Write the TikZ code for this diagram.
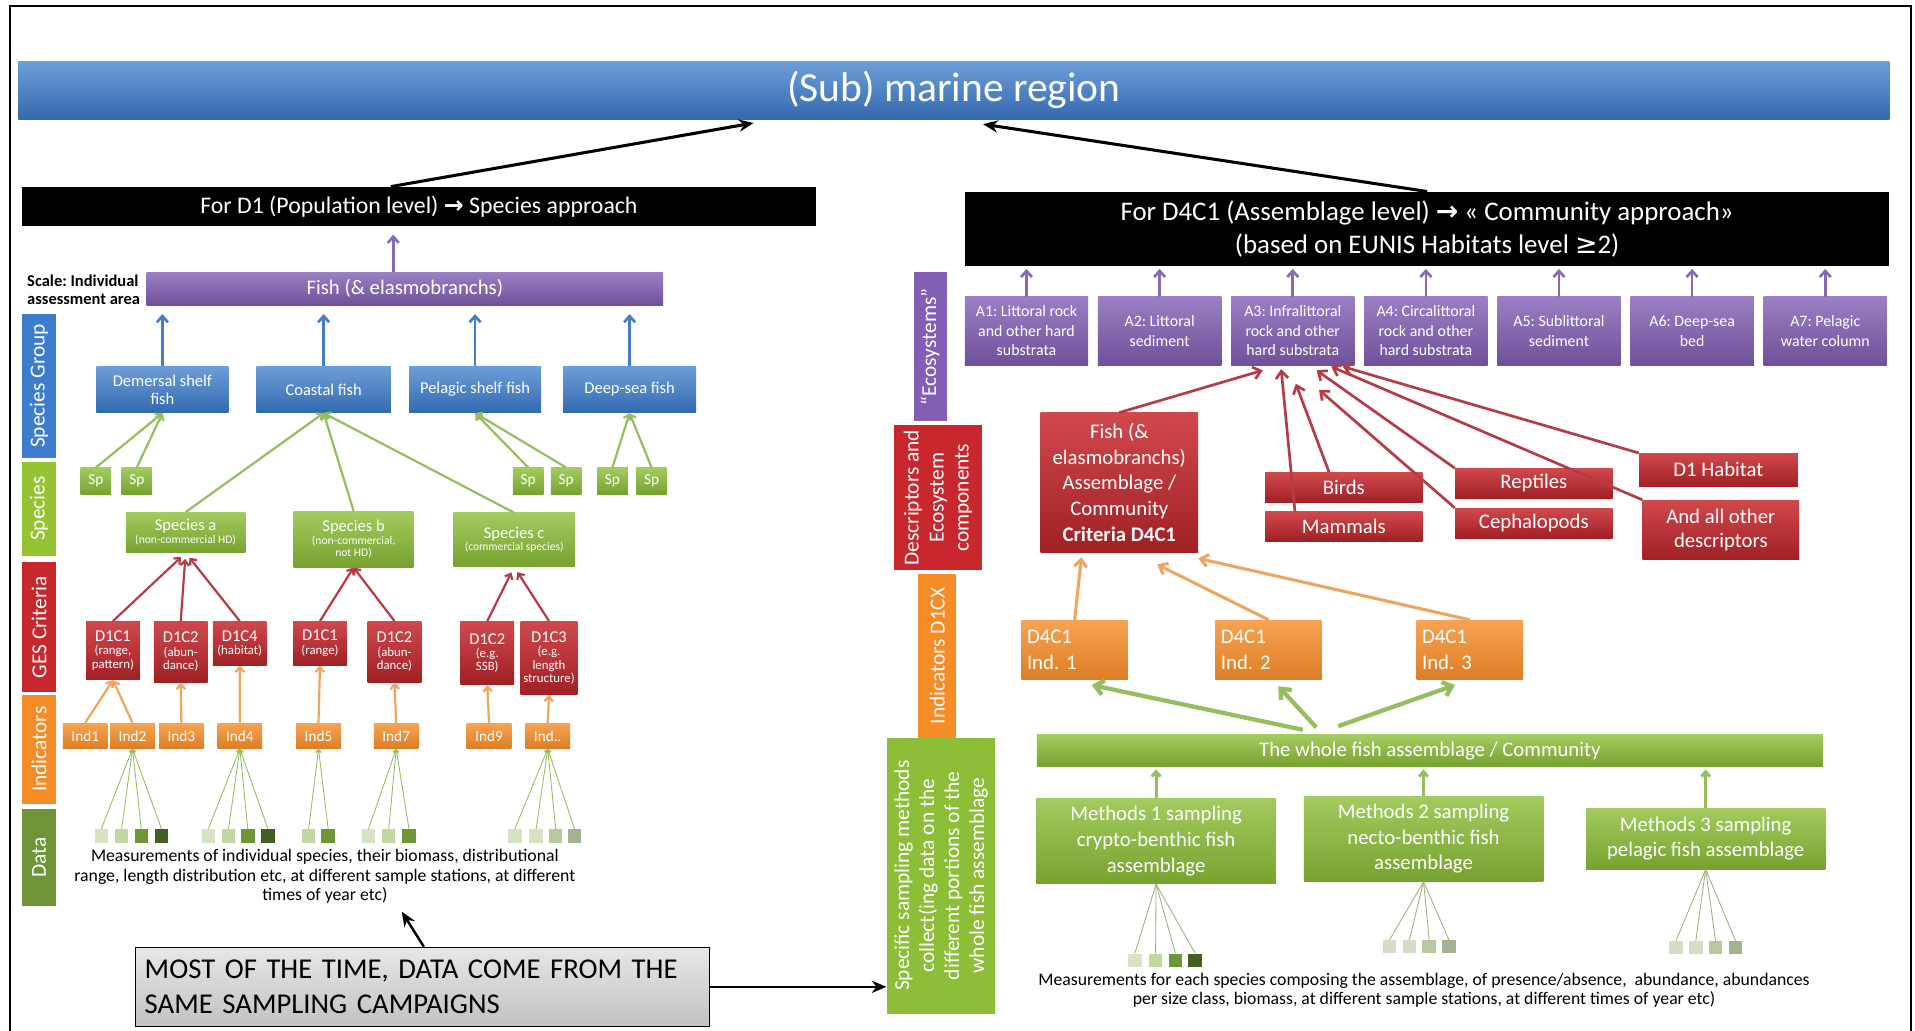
\documentclass[tikz,border=0pt]{standalone}
\usepackage{fontspec}
\setmainfont{Carlito}
\newfontfamily\symfont{DejaVu Sans}
\usetikzlibrary{arrows.meta}
\definecolor{myblue}{RGB}{60, 125, 205}
\definecolor{mypurple}{RGB}{130, 95, 180}
\definecolor{myred}{RGB}{200, 40, 45}
\definecolor{mygreen}{RGB}{140, 190, 55}
\definecolor{mylime}{RGB}{150, 195, 50}
\definecolor{myorange}{RGB}{245, 140, 40}
\definecolor{mydkgreen}{RGB}{110, 150, 55}
\definecolor{lineblue}{RGB}{70, 125, 195}
\definecolor{linepurple}{RGB}{135, 105, 180}
\definecolor{linered}{RGB}{180, 60, 70}
\definecolor{lineorange}{RGB}{240, 165, 95}
\definecolor{linegreen}{RGB}{150, 190, 95}
\definecolor{linegrey}{RGB}{160, 175, 130}
\definecolor{sqa}{RGB}{215, 228, 195}
\definecolor{sqb}{RGB}{195, 215, 160}
\definecolor{sqc}{RGB}{110, 150, 55}
\definecolor{sqd}{RGB}{65, 95, 35}
\definecolor{sqe}{RGB}{185, 200, 160}
\definecolor{sqf}{RGB}{165, 178, 145}
\definecolor{sqg}{RGB}{212, 222, 198}
\definecolor{boxgrey}{RGB}{215, 215, 215}
\newcommand{\fsz}[2]{\fontsize{#1}{#2}\selectfont}
\frenchspacing

\begin{document}
\begin{tikzpicture}[x=1pt, y=-1pt]
\tikzset{
  box/.style={align=center, text=white, inner sep=1pt},
  blueshade/.style={box, top color=myblue!75!white, bottom color=myblue!85!black},
  purpleshade/.style={box, top color=mypurple!80!white, bottom color=mypurple!85!black},
  redshade/.style={box, top color=myred!85!white, bottom color=myred!80!black},
  greenshade/.style={box, top color=mygreen!80!white, bottom color=mygreen!85!black},
  orangeshade/.style={box, top color=myorange!80!white, bottom color=myorange!90!black},
  blackbar/.style={box, fill=black},
  band/.style={box, rotate=90, minimum height=28, font=\fsz{17.5}{20.5}},
  spbox/.style={greenshade, minimum width=25, minimum height=22, font=\fsz{12.5}{14}},
  critbox/.style={redshade, anchor=north, minimum width=44, font=\fsz{10.5}{11}},
  indbox/.style={orangeshade, minimum width=36.5, minimum height=21, font=\fsz{12.5}{14}},
  abox/.style={purpleshade, minimum width=101, minimum height=56, font=\fsz{13}{16}},
  smallred/.style={redshade, minimum width=129, minimum height=24.5, font=\fsz{17}{20}},
  d4box/.style={orangeshade, minimum width=87, minimum height=49, align=left, text width=78, font=\fsz{17}{21}},
  methodbox/.style={greenshade, minimum width=196, font=\fsz{17}{21}},
  datasq/.style={minimum width=11, minimum height=11, inner sep=0},
  datatext/.style={align=center, text=black, inner sep=0, font=\fsz{14.5}{16}},
  blackarrow/.style={-{Stealth[length=12pt,width=10pt]}, line width=2.5pt},
  purplearrow/.style={-{Straight Barb[length=5pt,width=9pt]}, draw=linepurple, line width=2.2pt},
  bluearrow/.style={-{Straight Barb[length=5pt,width=9pt]}, draw=lineblue, line width=2.2pt},
  greenarrow/.style={-{Straight Barb[length=4pt,width=7pt]}, draw=linegreen, line width=1.8pt},
  redarrow/.style={-{Straight Barb[length=4pt,width=7pt]}, draw=linered, line width=1.8pt},
  orangearrow/.style={-{Straight Barb[length=4pt,width=7pt]}, draw=lineorange, line width=1.8pt},
  datalink/.style={-{Straight Barb[length=2.5pt,width=4pt]}, draw=linegreen, line width=0.7pt},
  datalinkr/.style={draw=linegrey, line width=0.7pt},
  redlong/.style={-{Straight Barb[length=6pt,width=10pt]}, draw=linered, line width=2.2pt},
  orangelong/.style={-{Straight Barb[length=6pt,width=10pt]}, draw=lineorange, line width=2.5pt},
  greenthick/.style={-{Straight Barb[length=7pt,width=12pt]}, draw=linegreen, line width=3.5pt}
}
\useasboundingbox (0,0) rectangle (1568,844);
\fill[white] (0,0) rectangle (1568,844);
\draw[line width=1.5pt] (8,844) -- (8,5) -- (1565,5) -- (1565,844);

% top
\node[blueshade, minimum width=1532, minimum height=47, font=\fsz{34}{40}] (region) at (781,74) {(Sub) marine region};
\node[blackbar, minimum width=650, minimum height=32, font=\fsz{19.5}{23}] (d1bar) at (343,169) {For D1 (Population level) {\symfont\bfseries →} Species approach};
\node[blackbar, minimum width=757, minimum height=61, font=\fsz{22}{27}] (d4bar) at (1168.5,187.5) {For D4C1 (Assemblage level) {\symfont\bfseries →} « Community approach»\\(based on EUNIS Habitats level {\symfont ≥}2)};
\draw[blackarrow] ([xshift=-23]d1bar.north) -- ([xshift=-164, yshift=-3]region.south);
\draw[blackarrow] (d4bar.north) -- ([xshift=24, yshift=-4]region.south);

% species approach
\node[align=left, inner sep=0, font=\bfseries\fsz{13.5}{15}] (scale) at (68.5,237) {Scale: Individual\\assessment area};
\node[purpleshade, minimum width=423, minimum height=27, font=\fsz{17}{20}] (fishbar) at (331.5,236.5) {Fish (\& elasmobranchs)};
\draw[purplearrow, shorten >=7pt] ([xshift=-9.5]fishbar.north) -- ([xshift=-21]d1bar.south);

\node[band, fill=myblue, minimum width=118] (bgroup) at (32,316) {Species Group};
\node[band, fill=mylime, minimum width=77] (bspecies) at (32,416.5) {Species};
\node[band, fill=myred, minimum width=107] (bcrit) at (32,513.5) {GES Criteria};
\node[band, fill=myorange, minimum width=89] (bind) at (32,613.5) {Indicators};
\node[band, fill=mydkgreen, minimum width=80] (bdata) at (32,702) {Data};

\node[blueshade, minimum width=108, minimum height=38, font=\fsz{13.5}{15}] (dem) at (133,319) {Demersal shelf\\fish};
\node[blueshade, minimum width=110, minimum height=38, font=\fsz{13.5}{15}] (coast) at (265,319) {Coastal fish};
\node[blueshade, minimum width=108, minimum height=38, font=\fsz{13.5}{15}] (pel) at (389,319) {Pelagic shelf fish};
\node[blueshade, minimum width=109, minimum height=38, font=\fsz{13.5}{15}] (deep) at (515.5,319) {Deep-sea fish};
\foreach \n in {dem,coast,pel,deep}
  \draw[bluearrow, shorten >=7pt] (\n.north) -- (\n.north |- fishbar.south);

\foreach \x [count=\i] in {78.5,112,432.5,463.5,501.5,533.5}
  \node[spbox] (sp\i) at (\x,394) {Sp};
\draw[greenarrow] (sp1.north) -- (dem.south);
\draw[greenarrow] (sp2.north) -- (dem.south);
\draw[greenarrow] (sp3.north) -- (pel.south);
\draw[greenarrow] (sp4.north) -- (pel.south);
\draw[greenarrow] (sp5.north) -- (deep.south);
\draw[greenarrow] (sp6.north) -- (deep.south);

\node[greenshade, minimum width=98, minimum height=33, font=\fsz{9.5}{10.5}] (spa) at (152,436) {{\fsz{13.5}{15}Species a}\\(non-commercial HD)};
\node[greenshade, minimum width=98, minimum height=46, font=\fsz{9.5}{10.5}] (spb) at (289.5,441.5) {{\fsz{13.5}{15}Species b}\\(non-commercial,\\not HD)};
\node[greenshade, minimum width=99, minimum height=44, font=\fsz{9.5}{10.5}] (spc) at (421,442) {{\fsz{13.5}{15}Species c}\\(commercial species)};
\foreach \n in {spa,spb,spc}
  \draw[greenarrow] (\n.north) -- (coast.south);

\node[critbox, minimum height=48] (c1a) at (92.5,508.5) {{\fsz{13.5}{15}D1C1}\\(range,\\pattern)};
\node[critbox, minimum height=50] (c2a) at (148,508.5) {{\fsz{13.5}{15}D1C2}\\(abun-\\dance)};
\node[critbox, minimum height=36] (c4a) at (196.3,508.5) {{\fsz{13.5}{15}D1C4}\\(habitat)};
\node[critbox, minimum height=36] (c1b) at (262,508.5) {{\fsz{13.5}{15}D1C1}\\(range)};
\node[critbox, minimum height=50] (c2b) at (323,508.5) {{\fsz{13.5}{15}D1C2}\\(abun-\\dance)};
\node[critbox, minimum height=52] (c2c) at (399,508.5) {{\fsz{13.5}{15}D1C2}\\(e.g.\\SSB)};
\node[critbox, minimum height=60, minimum width=46.5] (c3c) at (449.5,508.5) {{\fsz{13.5}{15}D1C3}\\(e.g.\\length\\structure)};
\foreach \n in {c1a,c2a,c4a}
  \draw[redarrow, shorten >=5pt] (\n.north) -- (spa.south);
\foreach \n in {c1b,c2b}
  \draw[redarrow] (\n.north) -- (spb.south);
\foreach \n in {c2c,c3c}
  \draw[redarrow, shorten >=5pt] (\n.north) -- (spc.south);

\foreach \x/\t in {69.8/1,108.5/2,148.5/3,196.4/4,260.8/5,324.4/7,400.4/9}
  \node[indbox] (i\t) at (\x,602.5) {Ind\t};
\node[indbox] (idd) at (448.5,602.5) {Ind..};
\draw[orangearrow] (i1.north) -- (c1a.south);
\draw[orangearrow] (i2.north) -- (c1a.south);
\draw[orangearrow] (i3.north) -- (c2a.south);
\draw[orangearrow] (i4.north) -- (c4a.south);
\draw[orangearrow] (i5.north) -- (c1b.south);
\draw[orangearrow] (i7.north) -- (c2b.south);
\draw[orangearrow] (i9.north) -- (c2c.south);
\draw[orangearrow] (idd.north) -- (c3c.south);

\foreach \x/\c [count=\k] in {82.9/sqa,99.6/sqb,115.7/sqc,132.3/sqd} {
  \node[datasq, fill=\c] (db\k) at (\x,684.5) {};
  \draw[datalink] (db\k.north) -- (i2.south);
}
\foreach \x/\c [count=\k] in {170.5/sqa,187.1/sqb,202.9/sqc,219.5/sqd} {
  \node[datasq, fill=\c] (dd\k) at (\x,684.5) {};
  \draw[datalink] (dd\k.north) -- (i4.south);
}
\foreach \x/\c [count=\k] in {252.7/sqb,268.7/sqc} {
  \node[datasq, fill=\c] (de\k) at (\x,684.5) {};
  \draw[datalink] (de\k.north) -- (i5.south);
}
\foreach \x/\c [count=\k] in {301.7/sqa,318.3/sqb,334.9/sqc} {
  \node[datasq, fill=\c] (dg\k) at (\x,684.5) {};
  \draw[datalink] (dg\k.north) -- (i7.south);
}
\foreach \x/\c [count=\k] in {421.5/sqa,439/sqa,455/sqe,470.5/sqf} {
  \node[datasq, fill=\c] (dz\k) at (\x,684.5) {};
  \draw[datalink] (dz\k.north) -- (idd.south);
}
\node[datatext] (datanote) at (266,717.5) {Measurements of individual species, their biomass, distributional\\range, length distribution etc, at different sample stations, at different\\times of year etc)};

\node[draw=black, line width=0.8pt, top color=boxgrey!60!white, bottom color=boxgrey!90!black, minimum width=470, minimum height=65, align=left, text width=455, inner sep=0, font=\fsz{23.5}{29}] (campaign) at (346,808) {MOST OF THE TIME, DATA COME FROM THE\\SAME SAMPLING CAMPAIGNS};
\coordinate (datapt) at (329,746.5);
\draw[blackarrow, line width=2pt] ([xshift=1]campaign.north) -- (datapt);

% middle column
\node[band, fill=mypurple, minimum width=122, minimum height=27] (ecobar) at (761.5,284) {“Ecosystems”};
\node[band, fill=myred, minimum width=119, minimum height=72] (descbar) at (768,407.5) {Descriptors and\\Ecosystem\\components};
\node[band, fill=myorange, minimum width=134, minimum height=31] (indbar) at (767.5,537) {Indicators D1CX};
\node[band, fill=mygreen, minimum width=226, minimum height=89] (sampling) at (770.5,717) {Specific sampling methods\\collect(ing data on the\\different portions of the\\whole fish assemblage};
\draw[blackarrow, line width=2pt] (campaign.east) -- (campaign.east -| sampling.north);

% community approach
\foreach \t [count=\i] in {{A1: Littoral rock\\and other hard\\substrata},{A2: Littoral\\sediment},{A3: Infralittoral\\rock and other\\hard substrata},{A4: Circalittoral\\rock and other\\hard substrata},{A5: Sublittoral\\sediment},{A6: Deep-sea\\bed},{A7: Pelagic\\water column}} {
  \node[abox] (a\i) at ({840.5+109*(\i-1)},271) {\t};
  \draw[purplearrow, shorten >=2pt] (a\i.north) -- (a\i.north |- d4bar.south);
}

\node[redshade, minimum width=129, minimum height=114, font=\fsz{17}{21}] (fishbox) at (916.5,395) {Fish (\&\\elasmobranchs)\\Assemblage /\\Community\\\textbf{Criteria D4C1}};
\node[smallred] (birds) at (1100.3,399.3) {Birds};
\node[smallred] (mammals) at (1100.3,431.3) {Mammals};
\node[smallred] (reptiles) at (1255.9,395.8) {Reptiles};
\node[smallred] (cephalo) at (1255.9,428.3) {Cephalopods};
\node[smallred, minimum width=130, minimum height=27] (d1hab) at (1407,384.6) {D1 Habitat};
\node[smallred, minimum width=128, minimum height=49] (allother) at (1409,434) {And all other\\descriptors};
\draw[redlong] (fishbox.north) -- ([xshift=-24.5, yshift=-4]a3.south);
\draw[redlong] ([xshift=-40]mammals.north) -- ([xshift=-9.5, yshift=-3]a3.south);
\draw[redlong] ([xshift=-12]birds.north) -- ([xshift=2.5, yshift=-15]a3.south);
\draw[redlong] (reptiles.north west) -- ([xshift=19.5, yshift=-4]a3.south);
\draw[redlong] (cephalo.north west) -- ([xshift=21.5, yshift=-20]a3.south);
\draw[redlong] (allother.north west) -- ([xshift=31.5, yshift=-1]a3.south);
\draw[redlong] (d1hab.north west) -- ([xshift=41, yshift=-1]a3.south);

\node[d4box] (ind1r) at (879.9,532.2) {D4C1\\Ind. 1};
\node[d4box] (ind2r) at (1038.7,532.2) {D4C1\\Ind. 2};
\node[d4box] (ind3r) at (1203.4,532.2) {D4C1\\Ind. 3};
\draw[orangelong] (ind1r.north) -- ([xshift=-31, yshift=-4]fishbox.south);
\draw[orangelong] (ind2r.north) -- ([xshift=31, yshift=-10]fishbox.south);
\draw[orangelong] (ind3r.north) -- ([yshift=-5]fishbox.south east);

\node[greenshade, minimum width=643.5, minimum height=26, font=\fsz{17}{20}] (whole) at (1170.75,614.75) {The whole fish assemblage / Community};
\draw[greenthick] ([xshift=-104, yshift=4]whole.north) -- ([xshift=14, yshift=-4]ind1r.south);
\draw[greenthick] ([xshift=-93, yshift=6]whole.north) -- ([xshift=8, yshift=-5]ind2r.south);
\draw[greenthick] ([xshift=-75, yshift=7]whole.north) -- ([xshift=-12, yshift=-4]ind3r.south);

\node[methodbox, minimum height=70] (m1) at (946.6,688.7) {Methods 1 sampling\\crypto-benthic fish\\assemblage};
\node[methodbox, minimum height=70] (m2) at (1165.6,686.8) {Methods 2 sampling\\necto-benthic fish\\assemblage};
\node[methodbox, minimum height=50] (m3) at (1396.6,686.7) {Methods 3 sampling\\pelagic fish assemblage};
\foreach \n in {m1,m2,m3}
  \draw[greenarrow, line width=2.5pt, shorten >=2pt] (\n.north) -- (\n.north |- whole.south);

\foreach \x/\c [count=\k] in {929.2/sqa,946.2/sqb,962.4/sqc,978.6/sqd} {
  \node[datasq, fill=\c] (ra\k) at (\x,786.3) {};
  \draw[datalinkr] (ra\k.north) -- (m1.south);
}
\foreach \x/\c [count=\k] in {1137.8/sqg,1154/sqg,1170.2/sqe,1186.4/sqf} {
  \node[datasq, fill=\c] (rb\k) at (\x,775.2) {};
  \draw[datalinkr] (rb\k.north) -- (m2.south);
}
\foreach \x/\c [count=\k] in {1372.3/sqg,1388.5/sqg,1404.7/sqe,1421/sqf} {
  \node[datasq, fill=\c] (rc\k) at (\x,776) {};
  \draw[datalinkr] (rc\k.north) -- (m3.south);
}
\node[datatext] (datanote2) at (1166,811) {Measurements for each species composing the assemblage, of presence/absence, \ abundance, abundances\\per size class, biomass, at different sample stations, at different times of year etc)};
\end{tikzpicture}
\end{document}
